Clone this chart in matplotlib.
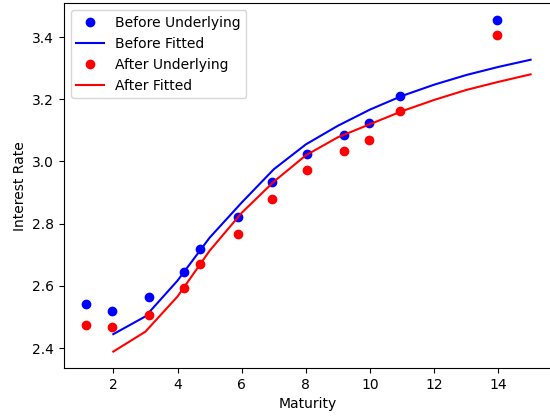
import matplotlib
matplotlib.use('Agg')
import matplotlib.pyplot as plt

# underlying points
maturities = [1.15, 1.97, 3.11, 4.21, 4.71, 5.87, 6.94, 8.02, 9.2, 9.97, 10.94, 13.95]
before_rates = [2.543, 2.520, 2.563, 2.644, 2.718, 2.822, 2.934, 3.025, 3.084, 3.123, 3.211, 3.455]
after_rates = [2.474, 2.467, 2.508, 2.594, 2.670, 2.768, 2.880, 2.971, 3.033, 3.070, 3.162, 3.407]

# fitted curves
fit_maturities = [2, 3, 4, 5, 6, 7, 8, 9, 10, 11, 12, 13, 14, 15]
before_fitted = [2.445, 2.502, 2.617, 2.755, 2.868, 2.975, 3.055, 3.115, 3.167, 3.211, 3.247, 3.278, 3.304, 3.327]
after_fitted = [2.389, 2.453, 2.566, 2.713, 2.835, 2.935, 3.020, 3.078, 3.120, 3.162, 3.198, 3.230, 3.256, 3.280]

fig = plt.figure(figsize=(5.5, 4.16), dpi=100)
# the right edge of the axes runs past the image, as in the original crop
ax = fig.add_axes([0.116, 0.115, 0.91, 0.877])

ax.plot(maturities, before_rates, 'bo', label='Before Underlying')
ax.plot(fit_maturities, before_fitted, 'b-', label='Before Fitted')
ax.plot(maturities, after_rates, 'ro', label='After Underlying')
ax.plot(fit_maturities, after_fitted, 'r-', label='After Fitted')

ax.set_xlim(0.4575, 16.05)
ax.set_xlabel('Maturity')
ax.xaxis.label.set_x(0.488)  # centre of the original (uncropped) axes
ax.set_ylabel('Interest Rate')
ax.set_xticks([2, 4, 6, 8, 10, 12, 14])
ax.legend(loc='upper left')

fig.savefig('out.png', dpi=100)
